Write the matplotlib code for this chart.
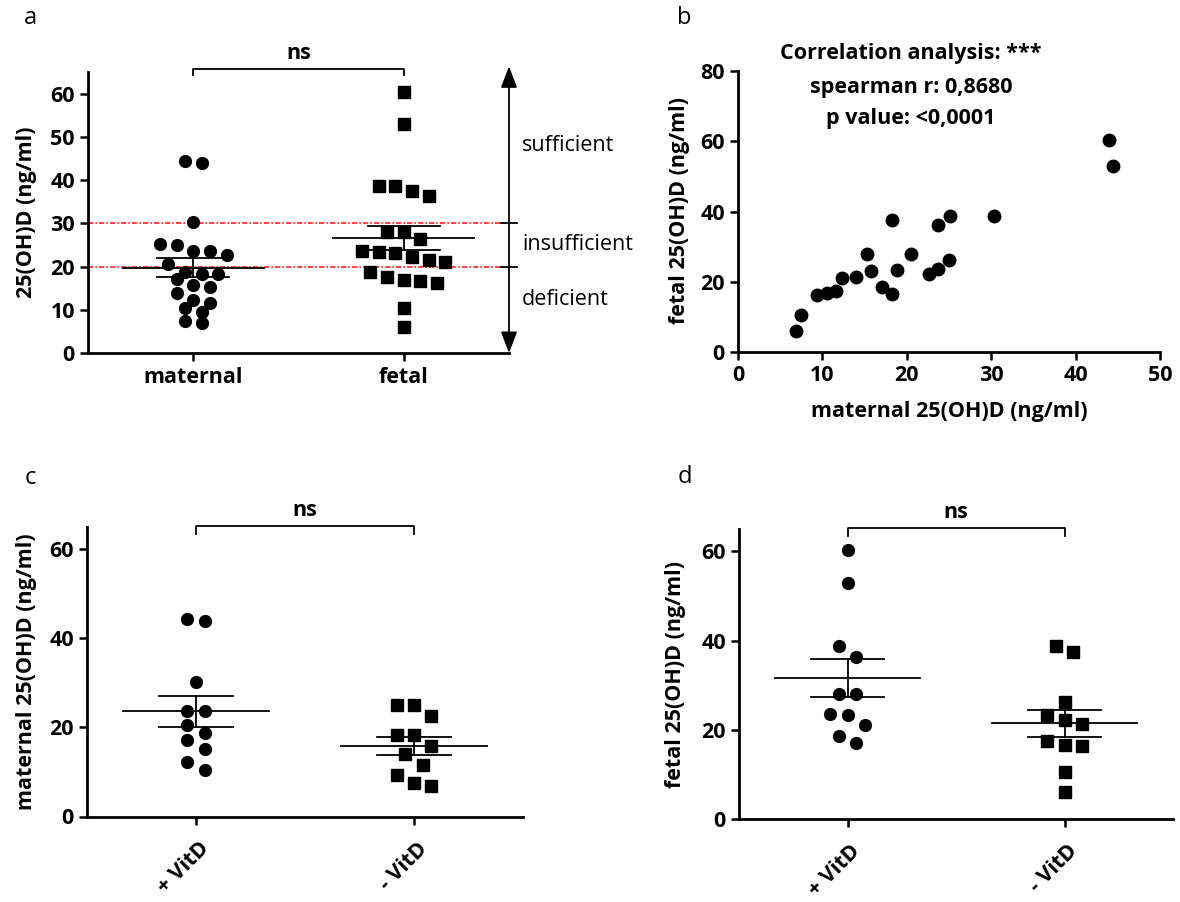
import numpy as np
import matplotlib
matplotlib.use("Agg")
import matplotlib.pyplot as plt
from matplotlib.transforms import ScaledTranslation

plt.rcParams["font.family"] = ["Open Sans", "DejaVu Sans"]
plt.rcParams["font.weight"] = "bold"
plt.rcParams["axes.labelweight"] = "bold"

# Paired 25(OH)D values (ng/ml), maternal serum vs cord blood, by supplementation group
maternal_plus = [43.9, 44.4, 30.3, 23.65, 23.7, 20.5, 18.8, 17.1, 15.25, 12.3, 10.5]
fetal_plus = [60.4, 53.0, 38.7, 23.6, 36.3, 28.0, 23.3, 18.7, 28.0, 21.0, 17.0]
maternal_minus = [25.0, 25.1, 22.6, 18.2, 18.2, 15.8, 13.95, 11.6, 9.4, 7.5, 6.9]
fetal_minus = [26.3, 38.7, 22.2, 37.5, 16.6, 23.2, 21.4, 17.5, 16.3, 10.5, 6.1]

source_labels = ["maternal", "fetal"]
group_labels = ["+ VitD", "- VitD"]
status_labels = ["sufficient", "insufficient", "deficient"]
status_cuts = [20, 30]
corr_lines = ["Correlation analysis: ***", "spearman r: 0,8680", "p value: <0,0001"]

maternal_all = np.array(maternal_plus + maternal_minus)
fetal_all = np.array(fetal_plus + fetal_minus)

FS = 15.5
W, H = 1180, 902


def swarm(values, step=0.079, row_h=2.8):
    # group close values into rows and spread each row symmetrically
    values = np.asarray(values, dtype=float)
    order = np.argsort(values)[::-1]
    offs = np.zeros(len(values))
    rows, row = [], []
    for idx in order:
        if row and values[row[0]] - values[idx] > row_h:
            rows.append(row)
            row = []
        row.append(idx)
    rows.append(row)
    for row in rows:
        n = len(row)
        for k, idx in enumerate(row):
            offs[idx] = (k - (n - 1) / 2) * step
    return offs


def style(ax):
    for s in ["top", "right"]:
        ax.spines[s].set_visible(False)
    for s in ["left", "bottom"]:
        ax.spines[s].set_linewidth(2)
    ax.tick_params(width=1.8, length=6, labelsize=FS, pad=3.5)


def column(ax, i, vals, marker, ms):
    vals = np.asarray(vals, dtype=float)
    ax.plot(i + swarm(vals), vals, ls="none", marker=marker, ms=ms,
            color="black", clip_on=False, zorder=3)
    m = vals.mean()
    s = vals.std(ddof=1) / np.sqrt(len(vals))
    kw = dict(color="black", lw=1.3, zorder=4)
    ax.plot([i - 0.335, i + 0.335], [m, m], **kw)
    ax.plot([i, i], [m - s, m + s], **kw)
    ax.plot([i - 0.17, i + 0.17], [m + s, m + s], **kw)
    ax.plot([i - 0.17, i + 0.17], [m - s, m - s], **kw)


def bracket(ax, y_top, y_low, y_text):
    ax.plot([0, 0, 1, 1], [y_low, y_top, y_top, y_low], color="black",
            lw=1.3, clip_on=False)
    ax.text(0.5, y_text, "ns", ha="center", va="center", fontsize=FS)


def box(l, t, r, b):
    return [l / W, 1 - b / H, (r - l) / W, (b - t) / H]


fig = plt.figure(figsize=(11.8, 9.02), dpi=100)

# a) maternal vs fetal with vitamin D status bands
ax = fig.add_axes(box(88, 72, 509, 353))
style(ax)
column(ax, 0, maternal_all, "o", 8.5)
column(ax, 1, fetal_all, "s", 8)
ax.set_xlim(-0.5, 1.5)
ax.set_ylim(0, 65)
ax.set_yticks(range(0, 61, 10))
ax.set_xticks([0, 1], source_labels)
ax.tick_params(axis="x", pad=4)
for c in status_cuts:
    ax.axhline(c, xmax=0.985, color="#ff2020", lw=1.2,
               ls=(0, (3.2, 1.2, 1.0, 1.2)), zorder=1)
    ax.plot([1.462, 1.538], [c, c], color="black", lw=1.3, clip_on=False)
ax.annotate("", xy=(1.5, 66.3), xytext=(1.5, 0), annotation_clip=False,
            arrowprops=dict(arrowstyle="<|-|>,head_length=0.65,head_width=0.25",
                            mutation_scale=20, color="black", lw=1.3,
                            shrinkA=0, shrinkB=0))
for lab, y in zip(status_labels, [47.9, 25.0, 12.3]):
    ax.text(1.562, y, lab, ha="left", va="center", fontsize=FS, fontweight="normal")
bracket(ax, 65.8, 64.2, 69.2)
fig.text(27 / W, 1 - 212 / H, "25(OH)D (ng/ml)", rotation=90, ha="center",
         va="center", fontsize=FS)

# b) correlation maternal vs fetal
ax = fig.add_axes(box(738, 71, 1160, 352.3))
style(ax)
ax.plot(maternal_all, fetal_all, "o", ms=9, color="black", clip_on=False)
ax.set_xlim(0, 50)
ax.set_ylim(0, 80)
ax.set_xticks(range(0, 51, 10))
ax.set_yticks(range(0, 81, 20))
for txt, y in zip(corr_lines, [85.1, 75.4, 66.6]):
    ax.text(20.5, y, txt, ha="center", va="center", fontsize=FS)
fig.text(949 / W, 1 - 412 / H, "maternal 25(OH)D (ng/ml)", ha="center",
         va="center", fontsize=FS)
fig.text(680 / W, 1 - 211 / H, "fetal 25(OH)D (ng/ml)", rotation=90,
         ha="center", va="center", fontsize=FS)

# c) maternal by supplementation, d) fetal by supplementation
for rect, plus, minus, ylab, ylab_x in [
        (box(87, 527, 523, 816.5), maternal_plus, maternal_minus,
         "maternal 25(OH)D (ng/ml)", 27),
        (box(739, 529, 1173, 819), fetal_plus, fetal_minus,
         "fetal 25(OH)D (ng/ml)", 676)]:
    ax = fig.add_axes(rect)
    style(ax)
    column(ax, 0, plus, "o", 8.5)
    column(ax, 1, minus, "s", 8)
    ax.set_xlim(-0.5, 1.5)
    ax.set_ylim(0, 65)
    ax.set_yticks(range(0, 61, 20))
    ax.set_xticks([0, 1], ["", ""])
    # slanted group names, right end just below each tick
    shift = ScaledTranslation(10 / 100, -29 / 100, fig.dpi_scale_trans)
    for i, lab in enumerate(group_labels):
        ax.text(i, 0, lab, transform=ax.get_xaxis_transform() + shift,
                rotation=45, rotation_mode="anchor", ha="right", va="center",
                fontsize=FS)
    bracket(ax, 65.2, 63.5, 68.6)
    mid = (rect[1] + rect[3] / 2)
    fig.text(ylab_x / W, mid, ylab, rotation=90, ha="center", va="center", fontsize=FS)

for letter, x, y in [("a", 30, 18), ("b", 684, 18), ("c", 30, 478), ("d", 685, 477)]:
    fig.text(x / W, 1 - y / H, letter, ha="center", va="center", fontsize=17,
             fontweight="normal")

fig.savefig("out.png", dpi=100)
